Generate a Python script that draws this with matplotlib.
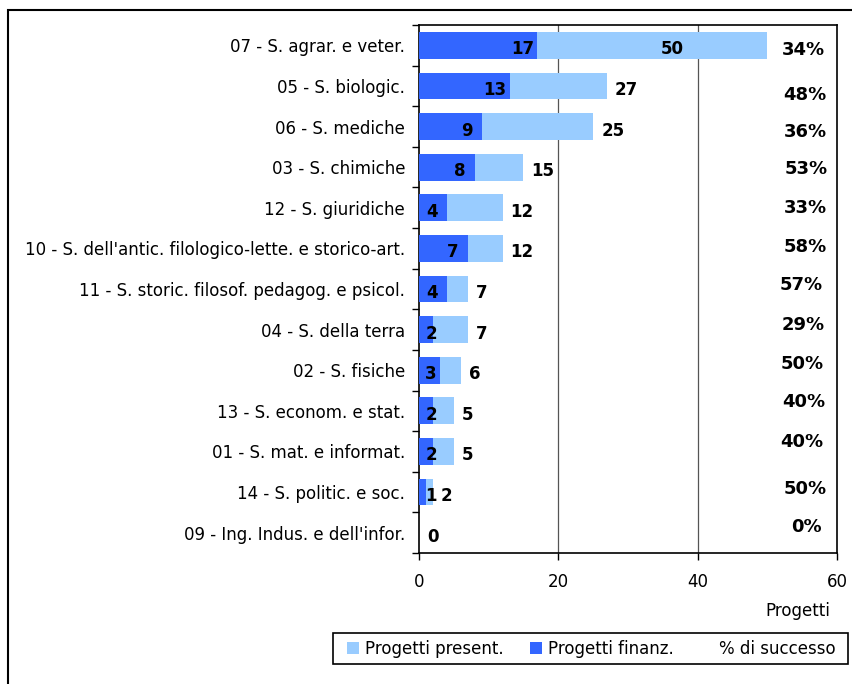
import matplotlib
matplotlib.use("Agg")
import matplotlib.pyplot as plt
from matplotlib.patches import Patch, Rectangle
from matplotlib.lines import Line2D

# ---------------- data ----------------
categories = [
    "07 - S. agrar. e veter.",
    "05 - S. biologic.",
    "06 - S. mediche",
    "03 - S. chimiche",
    "12 - S. giuridiche",
    "10 - S. dell'antic. filologico-lette. e storico-art.",
    "11 - S. storic. filosof. pedagog. e psicol.",
    "04 - S. della terra",
    "02 - S. fisiche",
    "13 - S. econom. e stat.",
    "01 - S. mat. e informat.",
    "14 - S. politic. e soc.",
    "09 - Ing. Indus. e dell'infor.",
]
progetti_present = [50, 27, 25, 15, 12, 12, 7, 7, 6, 5, 5, 2, 0]
progetti_finanz = [17, 13, 9, 8, 4, 7, 4, 2, 3, 2, 2, 1, 0]
perc_successo = [34, 48, 36, 53, 33, 58, 57, 29, 50, 40, 40, 50, 0]
x_ticks = [0, 20, 40, 60]
legend_labels = ["Progetti present.", "Progetti finanz.", "% di successo"]
x_label = "Progetti"

# ---------------- layout / style ----------------
W, H = 853, 684
C_LIGHT = "#99CCFF"
C_DARK = "#3366FF"
FONT = "DejaVu Sans"
plt.rcParams["font.family"] = [FONT]

# offsets (pixels) of the % labels from their nominal place
pct_dx = [-2, 0, 0, 1, 0, 0, -4, -2, -3, -1, -3, 0, 1]
pct_dy = [1, 5, 1.5, -2, -4, -5, -8, -9, -10, -13, -13.5, -7, -10]
pct_x = 55.4

fig = plt.figure(figsize=(W / 100, H / 100), dpi=100)
ax = fig.add_axes([419 / W, 1 - 553 / H, 418 / W, 528 / H])

n = len(categories)
ypos = list(range(n))
bh = 0.66
ax.barh(ypos, progetti_present, height=bh, color=C_LIGHT, zorder=2)
ax.barh(ypos, progetti_finanz, height=bh, color=C_DARK, zorder=3)

ax.set_xlim(0, 60)
ax.set_ylim(n - 0.5, -0.5)
ax.set_xticks(x_ticks)
ax.set_xticklabels([str(t) for t in x_ticks], fontsize=12)
ax.tick_params(axis="x", direction="out", length=5, width=1, pad=9.5, colors="black")
ax.set_yticks(ypos)
ax.set_yticklabels(categories, fontsize=12)
ax.tick_params(axis="y", which="major", length=0, pad=10)
ax.set_yticks([i - 0.5 for i in range(n + 1)], minor=True)
ax.tick_params(axis="y", which="minor", direction="out", length=5, width=1)
for s in ax.spines.values():
    s.set_color("black")
    s.set_linewidth(1.2)
for t in x_ticks[1:-1]:
    ax.axvline(t, color="#555555", linewidth=0.9, zorder=1)

fig.canvas.draw()
ppu = ax.transData.transform((1, 0))[0] - ax.transData.transform((0, 0))[0]

lab_kw = dict(fontweight="bold", color="black",
              textcoords="offset pixels", va="center_baseline", zorder=5)
for i in range(n):
    f = progetti_finanz[i]
    p = progetti_present[i]
    if f > 0:
        dx = max(f * ppu - 15, 12)
        ax.annotate(str(f), xy=(0, i), xytext=(dx, -2), ha="center", fontsize=12, **lab_kw)
    if p > 45:
        ax.annotate(str(p), xy=(p, i), xytext=(-95, -2), ha="center", fontsize=12, **lab_kw)
    else:
        ax.annotate(str(p), xy=(p, i), xytext=(8, -2), ha="left", fontsize=12, **lab_kw)
    ax.annotate(f"{perc_successo[i]}%", xy=(pct_x, i), xytext=(pct_dx[i], -pct_dy[i] - 2),
                ha="center", fontsize=13, **lab_kw)

fig.text(830 / W, 1 - 616 / H, x_label, ha="right", va="baseline", fontsize=12)

# legend (frame drawn separately to get the wide side padding)
handles = [Patch(facecolor=C_LIGHT, edgecolor="none"),
           Patch(facecolor=C_DARK, edgecolor="none"),
           Line2D([], [], linestyle="none", marker=None)]
leg = fig.legend(handles, legend_labels, loc="center left",
                 bbox_to_anchor=(347 / W, 1 - 649 / H), ncol=3, fontsize=12,
                 frameon=False, handlelength=0.72, handleheight=0.78,
                 handletextpad=0.36, columnspacing=1.6, borderpad=0, borderaxespad=0)
fig.add_artist(Rectangle((333 / W, 1 - 664 / H), (848 - 333) / W, 31 / H,
                         transform=fig.transFigure, fill=False, edgecolor="black",
                         linewidth=1.2))

# outer chart frame (left and top edges only; the rest is outside the picture)
fig.add_artist(Line2D([8 / W, 8 / W, 1.05], [-0.05, 1 - 10 / H, 1 - 10 / H],
                      transform=fig.transFigure, color="black", linewidth=1.5,
                      solid_capstyle="butt", solid_joinstyle="miter"))

fig.savefig("out.png", dpi=100)
